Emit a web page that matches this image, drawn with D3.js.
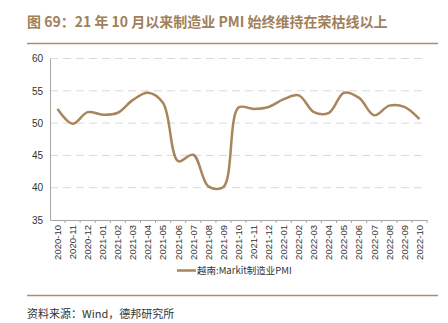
<!DOCTYPE html>
<html><head><meta charset="utf-8">
<script src="https://cdn.jsdelivr.net/npm/d3@7"></script>
<style>body{margin:0;background:#fff}svg{display:block}</style>
</head><body><svg id="c" width="448" height="323"></svg>
<script>
const categories = ["2020-10","2020-11","2020-12","2021-01","2021-02","2021-03","2021-04","2021-05","2021-06","2021-07","2021-08","2021-09","2021-10","2021-11","2021-12","2022-01","2022-02","2022-03","2022-04","2022-05","2022-06","2022-07","2022-08","2022-09","2022-10"];
const pmiValues = [52.2,49.9,51.7,51.3,51.6,53.6,54.7,53.1,44.1,45.1,40.2,40.1,52.4,52.2,52.5,53.7,54.3,51.7,51.6,54.7,53.9,51.2,52.7,52.5,50.6];
const yTicks = [35,40,45,50,55,60];
const titleText = "图 69：21 年 10 月以来制造业 PMI 始终维持在荣枯线以上";
const legendText = "越南:Markit制造业PMI";
const sourceText = "资料来源：Wind，德邦研究所";

const svg = d3.select("#c");
const font = "'Noto Sans CJK SC', 'Liberation Sans', sans-serif";
const accent = "#a8855a";
const L = 50, R = 427, T = 58.5, B = 220;

svg.append("text").attr("x", 27).attr("y", 27).attr("font-family", font)
  .attr("font-size", 14).attr("font-weight", "bold").attr("fill", "#a0805a").text(titleText);
svg.append("line").attr("x1", 27).attr("x2", 438).attr("y1", 43.5).attr("y2", 43.5)
  .attr("stroke", "#b08d66").attr("stroke-width", 1.5);

const x = d3.scaleBand().domain(categories).range([L, R]);
const y = d3.scaleLinear().domain([35, 60]).range([B, T]);

// gridlines
svg.append("g").selectAll("line").data(yTicks.filter(d => d > 35)).join("line")
  .attr("x1", L).attr("x2", R).attr("y1", d => y(d)).attr("y2", d => y(d))
  .attr("stroke", "#d9d9d9").attr("stroke-width", 1).attr("stroke-dasharray", "8,5");

// y axis
const ya = svg.append("g").attr("transform", `translate(${L},0)`)
  .call(d3.axisLeft(y).tickValues(yTicks).tickSize(0).tickPadding(7));
ya.select(".domain").attr("stroke", "#a6a6a6");
ya.selectAll("text").attr("font-family", "'Liberation Sans', Arial, sans-serif").attr("font-size", 10).attr("fill", "#333");

// x axis
const xa = svg.append("g").attr("transform", `translate(0,${B})`)
  .call(d3.axisBottom(x).tickSize(0).tickSizeOuter(0));
xa.select(".domain").attr("stroke", "#a6a6a6");
xa.selectAll(".tick line").remove();
xa.selectAll(".tick text")
  .attr("font-family", "'Liberation Sans', Arial, sans-serif").attr("font-size", 9.5).attr("fill", "#333")
  .attr("transform", "rotate(-90)").attr("text-anchor", "end").attr("dy", "0.35em").attr("x", -5).attr("y", 0);
// band-edge tick marks
svg.append("g").selectAll("line").data(categories.slice(1).concat(["__end"])).join("line")
  .attr("x1", d => d === "__end" ? R : x(d)).attr("x2", d => d === "__end" ? R : x(d))
  .attr("y1", B).attr("y2", B + 3).attr("stroke", "#a6a6a6");

// line
const line = d3.line().x((d, i) => x(categories[i]) + x.bandwidth() / 2).y(d => y(d))
  .curve(d3.curveCatmullRom.alpha(0.5));
svg.append("path").datum(pmiValues).attr("d", line).attr("fill", "none")
  .attr("stroke", accent).attr("stroke-width", 2.5).attr("stroke-linejoin", "round");

// legend
svg.append("line").attr("x1", 177).attr("x2", 196).attr("y1", 270.5).attr("y2", 270.5)
  .attr("stroke", accent).attr("stroke-width", 2.5);
svg.append("text").attr("x", 197).attr("y", 274).attr("font-family", font)
  .attr("font-size", 9.5).attr("fill", "#333").text(legendText);

// footer
svg.append("line").attr("x1", 27).attr("x2", 438).attr("y1", 295.5).attr("y2", 295.5)
  .attr("stroke", "#b08d66").attr("stroke-width", 1.5);
svg.append("text").attr("x", 27).attr("y", 318).attr("font-family", font)
  .attr("font-size", 11).attr("fill", "#333").text(sourceText);
</script></body></html>
